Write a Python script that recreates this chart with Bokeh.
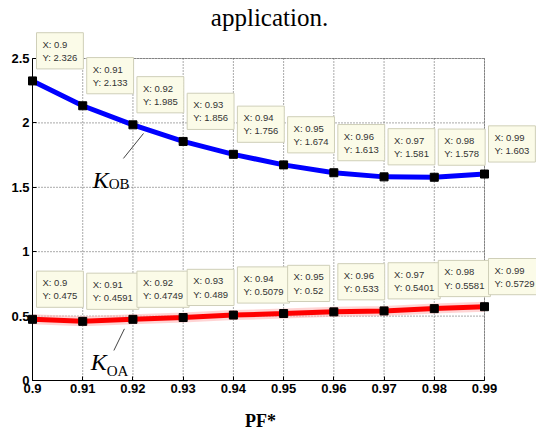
from bokeh.plotting import figure
from bokeh.models import Label, FixedTicker, CustomJSTickFormatter, Range1d, BoxAnnotation
from bokeh.embed import file_html
from bokeh.resources import INLINE

# ---- data ----
pf = [0.9, 0.91, 0.92, 0.93, 0.94, 0.95, 0.96, 0.97, 0.98, 0.99]
k_ob = [2.326, 2.133, 1.985, 1.856, 1.756, 1.674, 1.613, 1.581, 1.578, 1.603]
k_oa = [0.475, 0.4591, 0.4749, 0.489, 0.5079, 0.52, 0.533, 0.5401, 0.5581, 0.5729]
y_ticks = [0, 0.5, 1, 1.5, 2, 2.5]
title_text = "application."
x_title = "PF*"
series_names = ["OB", "OA"]

# annotation anchor positions (data units)
kob_pos = (0.912, 1.553)
koa_pos = (0.9116, 0.14)
lead_x0 = [0.9181, 0.9162]
lead_y0 = [1.724, 0.233]
lead_x1 = [0.9221, 0.9183]
lead_y1 = [1.918, 0.401]

x0, x1 = pf[0], pf[-1]
y0, y1 = y_ticks[0], y_ticks[-1]
# the frame fills the canvas; the axes box (x0..x1, y0..y1) sits inside it
x_start = x0 - 32 * (x1 - x0) / 452
x_end = x1 + 52 * (x1 - x0) / 452
y_end = y1 + 58 * (y1 - y0) / 322
y_start = y0 - 52 * (y1 - y0) / 322

p = figure(width=536, height=432, x_range=Range1d(x_start, x_end), y_range=Range1d(y_start, y_end),
           output_backend="svg", toolbar_location=None,
           min_border_left=0, min_border_right=0, min_border_top=0, min_border_bottom=0)
p.background_fill_color = "white"
p.border_fill_color = "white"
p.outline_line_color = None
p.xgrid.visible = False
p.ygrid.visible = False

fmt = "var s = tick.toFixed(2).replace(/0+$/, ''); return s.replace(/\\.$/, '');"
p.xaxis.ticker = FixedTicker(ticks=pf)
p.yaxis.ticker = FixedTicker(ticks=y_ticks)
p.xaxis.bounds = (x0, x1)
p.yaxis.bounds = (y0, y1)
p.xaxis.fixed_location = y0
p.yaxis.fixed_location = x0
for ax in (p.xaxis, p.yaxis):
    ax.formatter = CustomJSTickFormatter(code=fmt)
    ax.major_label_text_font = "Liberation Sans"
    ax.major_label_text_font_style = "bold"
    ax.major_label_text_font_size = "13px"
    ax.major_label_text_color = "black"
    ax.axis_line_color = "black"
    ax.major_tick_in = 4
    ax.major_tick_out = 0
    ax.major_tick_line_color = "black"
    ax.minor_tick_line_color = None
    ax.major_label_standoff = 3

# dotted grid inside the axes box
p.segment(x0=pf, y0=[y0] * len(pf), x1=pf, y1=[y1] * len(pf),
          line_color="#555555", line_dash="1 2", line_width=1)
p.segment(x0=[x0] * len(y_ticks), y0=y_ticks, x1=[x1] * len(y_ticks), y1=y_ticks,
          line_color="#555555", line_dash="1 2", line_width=1)
p.add_layout(BoxAnnotation(left=x0, right=x1, bottom=y0, top=y1, fill_alpha=0,
                           line_color="black", line_width=1, level="underlay"))

# lines
p.line(pf, k_oa, line_color="#ffb8b8", line_width=10, line_alpha=0.6)
p.line(pf, k_oa, line_color="#ff0000", line_width=5)
p.scatter(pf, k_oa, marker="square", size=8, color="black")
p.line(pf, k_ob, line_color="#0000ff", line_width=5)
p.scatter(pf, k_ob, marker="square", size=8, color="black")

# data tips
for series in (k_ob, k_oa):
    for xv, yv in zip(pf, series):
        p.add_layout(Label(x=xv, y=yv, text=f"X: {xv:g}\nY: {yv:g}",
                           x_offset=4, y_offset=12,
                           text_font="Liberation Sans", text_font_size="9.5px",
                           text_color="#333333", text_baseline="bottom", text_align="left",
                           background_fill_color="#fbfbe8", border_line_color="#cfcfb8",
                           padding=6))

# K labels and leader lines
p.segment(x0=lead_x0, y0=lead_y0, x1=lead_x1, y1=lead_y1, line_color="#444444", line_width=1)
for (kx, ky), sub, dy in ((kob_pos, series_names[0], -4), (koa_pos, series_names[1], -9)):
    p.add_layout(Label(x=kx, y=ky, text="K", text_font="Liberation Serif",
                       text_font_style="italic", text_font_size="24px",
                       text_baseline="alphabetic", text_color="black"))
    p.add_layout(Label(x=kx, y=ky, x_offset=16, y_offset=dy, text=sub,
                       text_font="Liberation Serif", text_font_size="15px",
                       text_baseline="alphabetic", text_color="black"))

# title text above the axes box
p.add_layout(Label(x=(x0 + x1) / 2, y=y1, x_offset=11, y_offset=41, text=title_text,
                   text_font="Liberation Serif", text_font_size="25px",
                   text_align="center", text_baseline="alphabetic", text_color="black"))

# x-axis title below the tick labels
p.add_layout(Label(x=(x0 + x1) / 2, y=y0, x_offset=2, y_offset=-40, text=x_title,
                   text_font="Liberation Serif", text_font_style="bold", text_font_size="18px",
                   text_align="center", text_baseline="alphabetic", text_color="black"))

open("out.html", "w").write(file_html(p, INLINE))
